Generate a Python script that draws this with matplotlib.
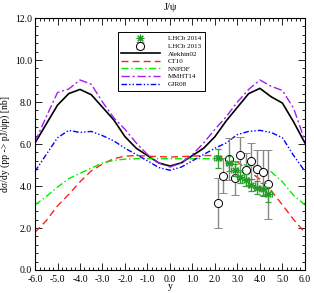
import matplotlib
matplotlib.use("Agg")
import matplotlib.pyplot as plt
from matplotlib.ticker import MultipleLocator, FormatStrFormatter

plt.rcParams['font.family'] = ['Liberation Serif', 'DejaVu Serif']
plt.rcParams['axes.unicode_minus'] = False
plt.rcParams['mathtext.fontset'] = 'stix'

# theory grid
y_grid = [-6.0, -5.5, -5.0, -4.5, -4.0, -3.5, -3.0, -2.5, -2.0, -1.5, -1.0, -0.5, 0.0,
          0.5, 1.0, 1.5, 2.0, 2.5, 3.0, 3.5, 4.0, 4.5, 5.0, 5.5, 6.0]
alekhin02 = [6.05, 6.95, 7.85, 8.4, 8.6, 8.35, 7.75, 7.15, 6.35, 5.8, 5.45, 5.1, 4.95,
             5.1, 5.45, 5.8, 6.35, 7.1, 7.75, 8.4, 8.65, 8.25, 7.95, 7.05, 6.05]
ct10 = [1.8, 2.35, 3.05, 3.6, 4.2, 4.72, 5.05, 5.3, 5.42, 5.45, 5.42, 5.4, 5.38,
        5.4, 5.42, 5.45, 5.45, 5.35, 5.15, 4.72, 4.32, 3.78, 3.1, 2.4, 1.78]
nnpdf = [3.1, 3.5, 3.95, 4.35, 4.6, 4.85, 5.1, 5.22, 5.28, 5.3, 5.3, 5.3, 5.3,
         5.3, 5.3, 5.3, 5.3, 5.25, 5.12, 4.95, 4.85, 4.68, 4.2, 3.55, 3.1]
mmht14 = [6.1, 7.3, 8.45, 8.62, 9.05, 8.85, 8.0, 7.25, 6.7, 6.05, 5.5, 5.1, 4.9,
          5.1, 5.5, 6.05, 6.7, 7.3, 8.0, 8.6, 9.05, 8.75, 8.55, 7.7, 6.15]
gjr08 = [4.7, 5.5, 6.3, 6.65, 6.55, 6.6, 6.4, 6.15, 5.8, 5.5, 5.2, 4.88, 4.75,
         4.9, 5.2, 5.5, 5.8, 6.05, 6.45, 6.6, 6.65, 6.55, 6.3, 5.45, 4.7]

# LHCb 2014
lhcb14_y = [2.125, 2.625, 2.875, 3.125, 3.375, 3.625, 3.875, 4.125, 4.375]
lhcb14_v = [5.32, 5.08, 4.76, 4.44, 4.29, 4.05, 3.92, 3.84, 3.6]
lhcb14_e = [0.45, 0.35, 0.3, 0.3, 0.3, 0.3, 0.3, 0.3, 0.35]

# LHCb 2013
lhcb13_y = [2.125, 2.375, 2.625, 2.875, 3.125, 3.375, 3.625, 3.875, 4.125, 4.375]
lhcb13_v = [3.2, 4.5, 5.3, 4.37, 5.5, 4.78, 5.18, 4.8, 4.65, 4.08]
lhcb13_e = [1.2, 0.85, 1.0, 0.8, 0.85, 0.8, 0.85, 0.9, 1.06, 1.63]

fig = plt.figure(figsize=(3.14, 2.93), dpi=100)
ax = fig.add_axes([0.1115, 0.0785, 0.8595, 0.86])

l_ale, = ax.plot(y_grid, alekhin02, color='black', lw=1.2, label='Alekhin02')
l_ct, = ax.plot(y_grid, ct10, color='#ff2020', lw=1.0, ls=(0, (5, 3)), label='CT10')
l_nn, = ax.plot(y_grid, nnpdf, color='#00ee00', lw=1.0, ls=(0, (5, 2, 1, 2)), label='NNPDF')
l_mm, = ax.plot(y_grid, mmht14, color='#a020f0', lw=1.0, ls=(0, (6, 2, 1.5, 2)), label='MMHT14')
l_gj, = ax.plot(y_grid, gjr08, color='#0000ff', lw=1.0, ls=(0, (4, 1.5, 1, 1.5, 1, 1.5)), label='GJR08')

e13 = ax.errorbar(lhcb13_y, lhcb13_v, yerr=lhcb13_e, fmt='o', mfc='white', mec='black',
                  mew=0.7, ms=5.8, ecolor='#888888', elinewidth=1.0, capsize=3, capthick=1.0,
                  label='LHCb 2013', zorder=5)
e14 = ax.errorbar(lhcb14_y, lhcb14_v, yerr=lhcb14_e, xerr=0.15, fmt='none',
                  ecolor='#33a033', elinewidth=0.9, capsize=2.5, capthick=0.9, zorder=6)
s14, = ax.plot(lhcb14_y, lhcb14_v, ls='none', marker=(8, 2, 0), ms=5.5, mew=0.8,
               color='#229922', label='LHCb 2014', zorder=7)

ax.set_xlim(-6, 6)
ax.set_ylim(0, 12)
ax.xaxis.set_major_locator(MultipleLocator(1.0))
ax.xaxis.set_minor_locator(MultipleLocator(0.2))
ax.yaxis.set_major_locator(MultipleLocator(2.0))
ax.yaxis.set_minor_locator(MultipleLocator(0.4))
ax.xaxis.set_major_formatter(FormatStrFormatter('%.1f'))
ax.yaxis.set_major_formatter(FormatStrFormatter('%.1f'))
ax.tick_params(which='both', direction='in', top=True, right=True, labelsize=7, width=0.6)
ax.tick_params(which='major', length=5)
ax.tick_params(axis='x', which='major', pad=3.5)
ax.tick_params(axis='y', which='major', pad=2)
ax.tick_params(which='minor', length=2.5)
for sp in ax.spines.values():
    sp.set_linewidth(0.8)

ax.set_xlabel('y', fontsize=7, labelpad=-1)
ax.set_ylabel('dσ/dy (pp -> pJ/ψp) [nb]', fontsize=7, labelpad=4)
ax.set_title('J/ψ', fontsize=7.5, pad=6)

leg = ax.legend([s14, e13, l_ale, l_ct, l_nn, l_mm, l_gj],
                ['LHCb 2014', 'LHCb 2013', 'Alekhin02', 'CT10', 'NNPDF', 'MMHT14', 'GJR08'],
                loc='upper left', bbox_to_anchor=(0.307, 0.944), fontsize=5.0,
                frameon=True, fancybox=False, edgecolor='black', framealpha=1,
                handlelength=5.5, borderpad=0.5, labelspacing=0.25, handletextpad=1.2,
                borderaxespad=0)
leg.get_frame().set_linewidth(0.7)

fig.savefig('out.png', dpi=100)
